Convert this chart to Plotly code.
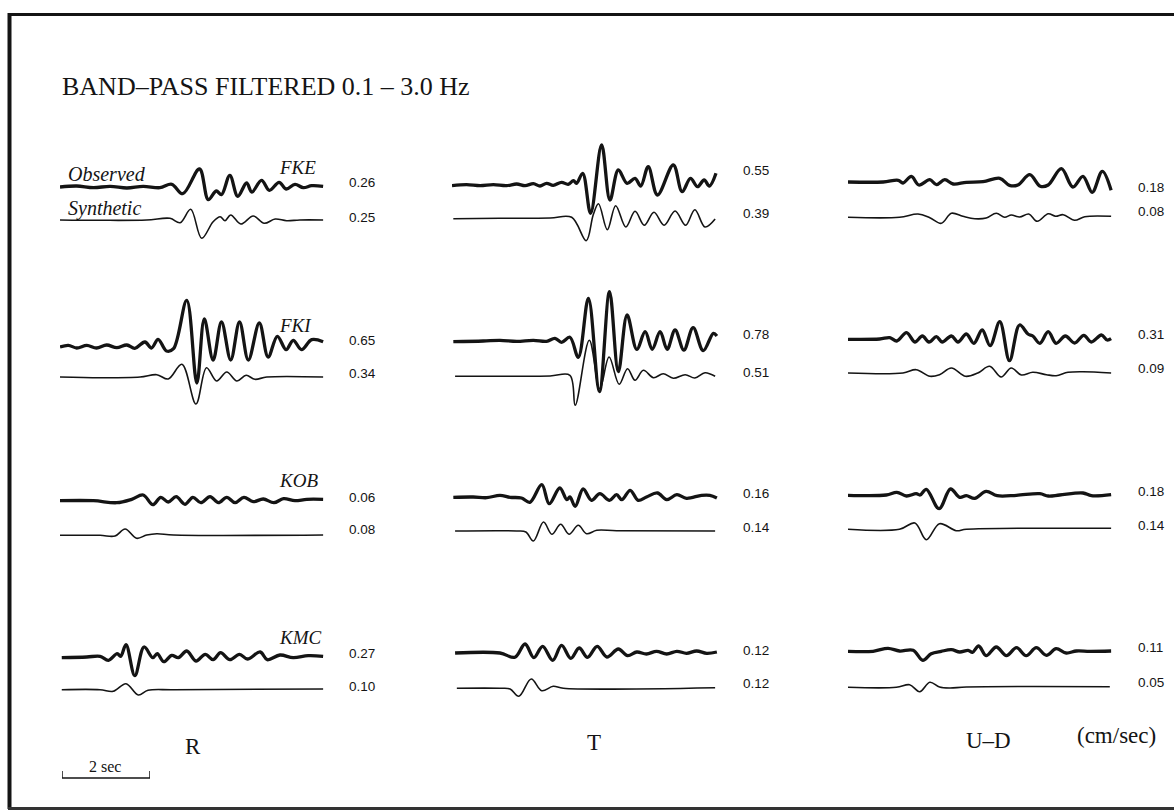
import plotly.graph_objects as go

# ---------------- DATA (time in s, deflection in trace units) ----------------
stations = ["FKE", "FKI", "KOB", "KMC"]
components = ["R", "T", "U–D"]

obs_peak_R = [0.26, 0.65, 0.06, 0.27]
syn_peak_R = [0.25, 0.34, 0.08, 0.10]
obs_peak_T = [0.55, 0.78, 0.16, 0.12]
syn_peak_T = [0.39, 0.51, 0.14, 0.12]
obs_peak_U = [0.18, 0.31, 0.18, 0.11]
syn_peak_U = [0.08, 0.09, 0.14, 0.05]

# ---- R component ----
fke_r_obs_t = [0, 0.38, 0.76, 1.14, 1.52, 1.89, 2.27, 2.54, 2.79, 3.17, 3.37, 3.55, 3.67, 3.86, 4.04, 4.24, 4.36, 4.58, 4.76, 4.98, 5.14, 5.34, 5.53, 5.72, 5.98]
fke_r_obs_a = [0, 1, -0.7, 0.7, -1, 0.7, -0.7, 2.7, -6.7, 18, -12.7, -4, -7.7, 11.7, -9.3, 4, -5, 6.7, -3.3, 4.7, -2, 2.7, -0.7, 1.3, 0.7]
fke_r_syn_t = [0, 0.91, 1.97, 2.5, 2.73, 2.97, 3.22, 3.48, 3.64, 3.75, 3.88, 4.11, 4.39, 4.64, 4.89, 5.15, 5.45, 5.98]
fke_r_syn_a = [0, -0.3, 0, 1.7, -2.7, 10.7, -18.3, -1.7, 3.3, -0.7, 5, -4, 4, -3.3, 1, -0.7, 0, 0]

fki_r_obs_t = [0, 0.19, 0.38, 0.61, 0.83, 1.06, 1.29, 1.52, 1.7, 1.93, 2.08, 2.23, 2.42, 2.58, 2.88, 3.11, 3.28, 3.48, 3.67, 3.88, 4.08, 4.28, 4.53, 4.73, 4.94, 5.14, 5.3, 5.49, 5.72, 5.98]
fki_r_obs_a = [0, 1.7, -1, 1.7, -1, 2, -0.7, 2, -1.3, 5, -1, 7.7, -4, -1.7, 46.7, -36, 28, -13, 25, -13, 25, -13, 24, -10, 10.7, -2.7, 6.7, -2.7, 7.3, 5.3]
fki_r_syn_t = [0, 0.91, 1.82, 2.2, 2.46, 2.77, 3.09, 3.33, 3.56, 3.79, 4.02, 4.23, 4.43, 4.7, 5.98]
fki_r_syn_a = [0, -0.7, 0, 2.3, -2, 12.7, -27, 9.3, -4, 5, -4, 1.7, -2.3, 0, 0]

kob_r_obs_t = [0, 0.76, 1.29, 1.63, 1.89, 2.11, 2.29, 2.46, 2.64, 2.84, 3.02, 3.2, 3.41, 3.6, 3.79, 3.98, 4.18, 4.39, 4.62, 4.86, 5.08, 5.34, 5.61, 5.98]
kob_r_obs_a = [-0.7, -0.7, -2.7, 0.7, 5, -4.7, 2.7, -2, 3.3, -4.3, 2.7, -2.7, 3.3, -2.7, 2.7, -2.7, 2.7, -1.7, 1, -2.7, 1.3, -0.7, 0.7, 0.7]
kob_r_syn_t = [0, 0.91, 1.25, 1.48, 1.74, 1.97, 2.2, 2.58, 5.98]
kob_r_syn_a = [-0.3, -0.3, -1, 6, -3.3, 0, 1.3, 0, 0]

kmc_r_obs_t = [0.04, 0.61, 0.91, 1.1, 1.3, 1.38, 1.5, 1.7, 1.91, 2.11, 2.21, 2.36, 2.54, 2.69, 2.88, 3.09, 3.3, 3.48, 3.65, 3.86, 4.08, 4.26, 4.55, 4.71, 5.0, 5.3, 5.64, 5.98]
kmc_r_obs_a = [-0.7, 0, 0.7, -3.3, 3.3, 0.7, 12.3, -18.7, 10, -0.7, 3.3, -4.7, 1.7, -0.7, 6, -4, 2.7, -2.7, 4.3, -2.7, 2.7, -2, 5, -2.7, 2, -0.7, 1.3, 0.7]
kmc_r_syn_t = [0.04, 0.91, 1.21, 1.5, 1.78, 2.0, 2.58, 5.98]
kmc_r_syn_a = [-0.7, -0.7, -2.3, 5.3, -6, -1.3, -0.7, 0]

# ---- T component ----
fke_t_obs_t = [0, 0.33, 0.64, 0.94, 1.24, 1.47, 1.66, 1.85, 2.0, 2.15, 2.3, 2.49, 2.64, 2.76, 2.83, 2.97, 3.15, 3.4, 3.59, 3.78, 3.98, 4.16, 4.29, 4.46, 4.67, 5.03, 5.23, 5.42, 5.58, 5.73, 5.85, 6.0]
fke_t_obs_a = [-0.7, 0.3, -0.7, 0.3, -0.7, 1, -0.7, 1.3, -1, 1.7, -0.3, 2.7, 0.7, 4.3, 1.7, 11.7, -28.3, 40, -15, 15, 1.7, 6.7, -1, 18.3, -10, 20, -6.7, 6.7, -1.7, 5, -1, 11.7]
fke_t_syn_t = [0.03, 1.09, 2.23, 2.72, 3.05, 3.21, 3.33, 3.53, 3.72, 3.95, 4.16, 4.37, 4.59, 4.82, 5.07, 5.31, 5.52, 5.75, 5.98]
fke_t_syn_a = [-0.7, -0.3, 0, 0.7, -22.7, 3.3, 14.3, -11.7, 12.3, -9, 6.7, -7.3, 5.7, -7.3, 7, -7.3, 8.3, -9, -1]

fki_t_obs_t = [0.03, 0.71, 1.09, 1.47, 1.85, 2.15, 2.34, 2.49, 2.68, 2.87, 3.1, 3.35, 3.58, 3.78, 3.98, 4.2, 4.39, 4.55, 4.73, 4.89, 5.07, 5.27, 5.48, 5.71, 5.94, 6.02]
fki_t_obs_a = [-0.7, 0, 0.7, -0.3, 0.7, -0.3, 2.7, -1.3, 3.7, -16.3, 42.7, -50.7, 49.3, -30.7, 26, -8.3, 9.3, -8.3, 9.3, -8.3, 11, -9, 13.3, -9.7, 7.7, 5]
fki_t_syn_t = [0.07, 1.09, 2.23, 2.68, 2.8, 3.12, 3.36, 3.57, 3.8, 3.99, 4.16, 4.35, 4.58, 4.8, 5.03, 5.3, 5.52, 5.75, 5.98]
fki_t_syn_a = [-0.3, -0.3, 0, 0.7, -29.3, 35.7, -12.7, 19, -8.3, 7.3, -4.3, 5.7, -1.7, 2.3, -2.3, 1.3, -2, 3.3, -0.3]

kob_t_obs_t = [0.03, 0.48, 0.79, 1.09, 1.32, 1.58, 1.77, 2.04, 2.21, 2.45, 2.61, 2.68, 2.8, 2.98, 3.17, 3.36, 3.58, 3.74, 3.86, 4.05, 4.23, 4.42, 4.67, 4.88, 5.11, 5.33, 5.67, 5.86, 6.02]
kob_t_obs_a = [-0.3, 0, -0.7, 1.7, -0.3, -1, -5.3, 12.3, -6.7, 9, -2.7, 0, -9.3, 8, -3.3, 3.3, -3.3, 2.3, -2.7, 6.7, -3.3, 0, 4, -2.7, 2.3, -1.3, 1.7, 1.7, -1]
kob_t_syn_t = [0.07, 1.47, 1.68, 1.85, 2.08, 2.27, 2.47, 2.66, 2.87, 3.06, 3.29, 3.74, 5.98]
kob_t_syn_a = [0, 0, -1, -10, 9, -3.3, 6.7, -3.3, 5.7, -2.7, 0.7, 0.3, 0]

kmc_t_obs_t = [0.07, 1.09, 1.43, 1.66, 1.86, 2.06, 2.29, 2.49, 2.7, 2.89, 3.08, 3.3, 3.52, 3.78, 3.99, 4.2, 4.42, 4.65, 4.88, 5.11, 5.33, 5.56, 5.79, 6.02]
kmc_t_obs_a = [0, 0, -4.3, 9, -4.7, 6.7, -7.3, 7.7, -5.3, 5, -4.3, 6.7, -4, 4, -2.7, 1, -1, 1.7, -1, 1.7, -0.3, 2, -0.3, 1]
kmc_t_syn_t = [0.11, 1.09, 1.32, 1.52, 1.8, 2.04, 2.3, 2.53, 5.98]
kmc_t_syn_a = [-0.3, -0.3, -1, -8.3, 9, -2.7, 1.7, -0.3, 0.3]

# ---- U-D component ----
fke_u_obs_t = [0, 0.8, 1.14, 1.25, 1.44, 1.61, 1.86, 2.01, 2.2, 2.39, 2.69, 3.07, 3.45, 3.67, 3.86, 4.13, 4.37, 4.55, 4.85, 5.11, 5.34, 5.55, 5.78, 5.98]
fke_u_obs_a = [0, 0, 1.7, -1, 5.7, -3, 2.3, -2.7, 2.3, -2, -0.3, 0.3, 3.7, -3.3, -3, 7.3, -4.3, -3, 13.3, -5, 5.7, -10.3, 10.7, -8.3]
fke_u_syn_t = [0, 1.17, 1.59, 1.86, 2.12, 2.35, 2.61, 2.88, 3.14, 3.37, 3.56, 3.71, 3.9, 4.11, 4.3, 4.55, 4.72, 4.89, 5.15, 5.38, 5.98]
fke_u_syn_a = [-0.3, -0.3, 3, -0.7, -6.3, 3.7, 0.7, -1.7, -1, 3.7, -0.3, 2, 0, 3, -4.3, 3.3, 0.7, 2.3, -3.3, 0.3, 0.7]

fki_u_obs_t = [0, 0.72, 0.95, 1.11, 1.33, 1.52, 1.69, 1.84, 2.01, 2.14, 2.35, 2.5, 2.69, 2.86, 3.05, 3.23, 3.45, 3.67, 3.9, 4.09, 4.2, 4.36, 4.55, 4.73, 4.94, 5.15, 5.36, 5.53, 5.76, 5.89, 5.98]
fki_u_obs_a = [-0.3, 0, 1.3, -2, 6.3, -3, 3, -3, 2.3, -3, 3, -3, 5, -4.3, 9, -6.7, 17.3, -21.7, 14, 5, 3, -4.3, 7.3, -4.3, 3, -4, 3.7, -3, 4, -1, 0.3]
fki_u_syn_t = [0, 1.25, 1.55, 1.86, 2.08, 2.35, 2.67, 2.95, 3.22, 3.48, 3.71, 3.94, 4.2, 4.51, 4.73, 5.0, 5.34, 5.98]
fki_u_syn_a = [0, 0, 3.3, -3.3, -1.7, 5, -3.3, 0, 6.7, -4, 5, -2, 0.7, -1.7, -2.7, 0.7, 1.3, 0]

kob_u_obs_t = [0, 0.87, 1.11, 1.33, 1.55, 1.64, 1.78, 2.07, 2.33, 2.54, 2.69, 2.88, 3.14, 3.39, 3.83, 4.36, 4.55, 4.81, 5.34, 5.53, 5.98]
kob_u_obs_a = [-0.3, 0, 2.7, -1, 1.3, 0, 5.7, -13.7, 6, -2.3, -0.7, -3.3, 3.7, -0.7, -0.3, 1.3, -1, 0, 2, -0.7, 0.3]
kob_u_syn_t = [0, 1.17, 1.52, 1.78, 2.08, 2.46, 2.69, 5.98]
kob_u_syn_a = [-0.3, -0.3, 6, -10.7, 5.3, -1.7, -0.3, 0.7]

kmc_u_obs_t = [0, 0.57, 0.91, 1.17, 1.48, 1.7, 1.89, 2.12, 2.35, 2.54, 2.73, 2.83, 2.97, 3.14, 3.37, 3.6, 3.83, 4.05, 4.28, 4.51, 4.73, 4.96, 5.19, 5.49, 5.98]
kmc_u_obs_a = [-0.3, -0.3, 2.7, 0, 0.7, -9.3, -2.7, -0.3, 1.3, -1, 0.7, -1.3, 5, -4.7, 4, -4.7, 3.3, -4.7, 3.3, -4.3, 2.3, -2, 0, -0.3, 0]
kmc_u_syn_t = [0, 1.1, 1.4, 1.63, 1.86, 2.08, 2.31, 2.69, 5.95]
kmc_u_syn_a = [-0.3, -0.3, 2.3, -4.7, 4.7, 0, -1, 0, 0.3]

scale_bar_t = [0, 0, 2, 2]
scale_bar_h = [7, 0, 0, 7]

# ---------------- LAYOUT (pixel geometry of the page) ----------------
W, H = 1174, 810
PX_PER_S = 44.0
T_MAX = 6.1
AMP_HALF = 60
COL_X0 = [60, 452, 848]
OBS_BASE = [[187, 185, 182], [347, 341, 339], [500, 497, 495], [657, 653, 651]]
SYN_BASE = [[220, 218, 217], [377, 376, 373], [535, 531, 529], [689, 688, 687]]
LABEL_X = [347, 741, 1136]
OBS_LABEL_Y = [[183, 170, 188], [340, 334, 334], [497, 494, 491], [653, 650, 647]]
SYN_LABEL_Y = [[217, 213, 211], [373, 372, 369], [529, 527, 525], [686, 683, 682]]
STATION_LABEL_Y = [168, 325, 481, 637]

obs_series = {
    0: [(fke_r_obs_t, fke_r_obs_a), (fki_r_obs_t, fki_r_obs_a), (kob_r_obs_t, kob_r_obs_a), (kmc_r_obs_t, kmc_r_obs_a)],
    1: [(fke_t_obs_t, fke_t_obs_a), (fki_t_obs_t, fki_t_obs_a), (kob_t_obs_t, kob_t_obs_a), (kmc_t_obs_t, kmc_t_obs_a)],
    2: [(fke_u_obs_t, fke_u_obs_a), (fki_u_obs_t, fki_u_obs_a), (kob_u_obs_t, kob_u_obs_a), (kmc_u_obs_t, kmc_u_obs_a)],
}
syn_series = {
    0: [(fke_r_syn_t, fke_r_syn_a), (fki_r_syn_t, fki_r_syn_a), (kob_r_syn_t, kob_r_syn_a), (kmc_r_syn_t, kmc_r_syn_a)],
    1: [(fke_t_syn_t, fke_t_syn_a), (fki_t_syn_t, fki_t_syn_a), (kob_t_syn_t, kob_t_syn_a), (kmc_t_syn_t, kmc_t_syn_a)],
    2: [(fke_u_syn_t, fke_u_syn_a), (fki_u_syn_t, fki_u_syn_a), (kob_u_syn_t, kob_u_syn_a), (kmc_u_syn_t, kmc_u_syn_a)],
}
obs_peaks = [obs_peak_R, obs_peak_T, obs_peak_U]
syn_peaks = [syn_peak_R, syn_peak_T, syn_peak_U]

INK = "#141414"
SERIF = "Liberation Serif, Times New Roman, serif"
SANS = "Liberation Sans, Arial, sans-serif"

fig = go.Figure()
layout_axes = {}
n_axes = [0]


def new_axes(x0_px, width_px, y_top_px, y_bot_px, xrange, yrange):
    n_axes[0] += 1
    n = n_axes[0]
    sx = "" if n == 1 else str(n)
    layout_axes["xaxis" + sx] = dict(domain=[x0_px / W, (x0_px + width_px) / W], range=xrange,
                                     visible=False, fixedrange=True, anchor="y" + sx)
    layout_axes["yaxis" + sx] = dict(domain=[1 - y_bot_px / H, 1 - y_top_px / H], range=yrange,
                                     visible=False, fixedrange=True, anchor="x" + sx)
    return "x" + sx, "y" + sx


for c in range(3):
    for r in range(4):
        for series, bases, lw in ((obs_series, OBS_BASE, 3.3), (syn_series, SYN_BASE, 1.6)):
            t, a = series[c][r]
            yb = bases[r][c]
            xa, ya = new_axes(COL_X0[c], T_MAX * PX_PER_S, yb - AMP_HALF, yb + AMP_HALF,
                              [0, T_MAX], [-AMP_HALF, AMP_HALF])
            fig.add_trace(go.Scatter(x=t, y=a, mode="lines", xaxis=xa, yaxis=ya,
                                     line=dict(color=INK, width=lw, shape="spline", smoothing=1.0),
                                     hoverinfo="skip", showlegend=False))

# 2 sec scale bar
xa, ya = new_axes(62, 2 * PX_PER_S, 767, 779, [0, 2], [-1, 11])
fig.add_trace(go.Scatter(x=scale_bar_t, y=scale_bar_h, mode="lines", xaxis=xa, yaxis=ya,
                         line=dict(color=INK, width=1.5), hoverinfo="skip", showlegend=False))

ann = []


def text(x, y, s, size, font=SERIF, anchor="left", italic=False):
    if italic:
        s = "<i>" + s + "</i>"
    ann.append(dict(x=x / W, y=1 - y / H, xref="paper", yref="paper", text=s, showarrow=False,
                    xanchor=anchor, yanchor="middle", font=dict(family=font, size=size, color=INK)))


text(60, 86, "BAND–PASS FILTERED 0.1 – 3.0 Hz", 26)
text(66, 174, "Observed", 20, italic=True)
text(66, 208, "Synthetic", 20, italic=True)
for r, st in enumerate(stations):
    text(277, STATION_LABEL_Y[r], st, 19, italic=True)
for c in range(3):
    for r in range(4):
        text(LABEL_X[c], OBS_LABEL_Y[r][c], f"{obs_peaks[c][r]:.2f}", 13.5, font=SANS)
        text(LABEL_X[c], SYN_LABEL_Y[r][c], f"{syn_peaks[c][r]:.2f}", 13.5, font=SANS)

text(193, 746, components[0], 23, anchor="center")
text(594, 742, components[1], 23, anchor="center")
text(988, 740, components[2], 23, anchor="center")
text(1075, 735, "(cm/sec)", 23)
text(105, 766, "2 sec", 16, anchor="center")

shapes = [
    dict(type="line", xref="paper", yref="paper", x0=9.5 / W, x1=9.5 / W, y0=1 - 13 / H, y1=1 - 809 / H,
         line=dict(color=INK, width=4)),
    dict(type="line", xref="paper", yref="paper", x0=8 / W, x1=1.0, y0=1 - 14.5 / H, y1=1 - 14.5 / H,
         line=dict(color=INK, width=3)),
    dict(type="line", xref="paper", yref="paper", x0=8 / W, x1=1.0, y0=1 - 808.5 / H, y1=1 - 808.5 / H,
         line=dict(color="#333333", width=3)),
]

fig.update_layout(width=W, height=H, margin=dict(l=0, r=0, t=0, b=0),
                  paper_bgcolor="white", plot_bgcolor="rgba(0,0,0,0)",
                  annotations=ann, shapes=shapes, showlegend=False, **layout_axes)

fig.write_html("out.html", config={"displayModeBar": False})
